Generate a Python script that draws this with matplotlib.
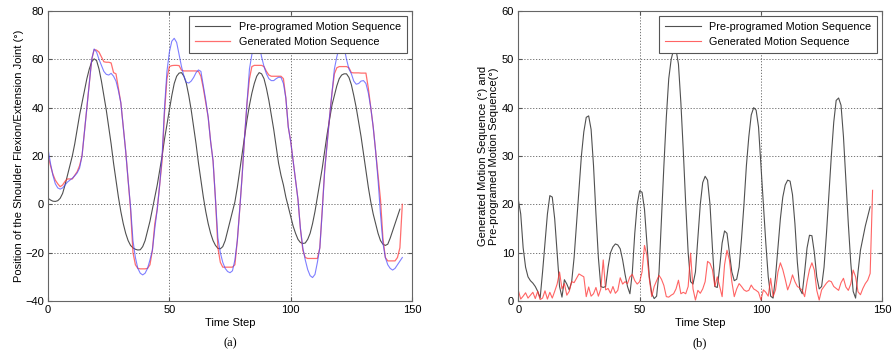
import numpy as np
import matplotlib
matplotlib.use("Agg")
import matplotlib.pyplot as plt

plt.rcParams['font.family'] = ['Liberation Sans', 'DejaVu Sans']

# ---- panel (a): joint position ----
pre_a = [2.5, 1.8, 1.3, 1.2, 1.5, 2.5, 4.5, 8, 12, 16, 20, 25, 31, 37, 42, 47, 52, 56, 59, 60.2,
         59.5, 56, 51, 45, 39, 32, 25, 17, 10, 3, -3, -8, -12, -15, -17, -18, -18.6, -18.9, -18.8, -17.5,
         -15, -11, -7, -2, 3, 8, 14, 20, 27, 33, 39, 45, 50, 53, 54.3, 54.5, 53, 50, 45, 39,
         32, 25, 17, 10, 3, -3, -8, -12, -15, -17, -18.2, -18.4, -17.5, -15, -11, -7, -3, 1, 7, 14,
         21, 28, 35, 41, 46, 50, 53, 54.5, 54, 52, 48, 43, 37, 31, 24, 17, 12, 8, 3, -1,
         -5, -9, -12, -14.5, -15.8, -16.2, -16, -14.5, -12, -8, -3, 3, 9, 15, 22, 29, 35, 41, 45, 49,
         52, 53.5, 54, 54, 52.5, 49.5, 45, 40, 34, 28, 21, 14, 7, 1, -4, -8, -12, -15, -16.5, -17,
         -16.5, -14, -11, -8, -5, -2]

gen_a = [20.5, 16, 12.5, 10, 8.5, 7.3, 8, 9.5, 10.5, 10.5, 10.5, 12, 13.5, 16, 20, 30, 40, 50, 60, 64,
         63.8, 63, 61, 59, 58.8, 58.8, 58.5, 54.5, 54, 48, 42, 32, 22, 10, -2, -20, -25, -26.5, -26.7, -26.7,
         -26.7, -26.5, -25, -19, -8, -2, 8, 18, 38, 52, 57, 57.4, 57.5, 57.5, 57.4, 55.5, 55.2, 55.2, 55.2, 55.2,
         55.2, 55.2, 55, 53, 48, 42, 36, 26, 18, 2, -18, -24, -26, -26, -26, -26, -26, -25, -15, -2,
         12, 28, 42, 52, 57, 57.5, 57.5, 57.5, 57.5, 57, 55, 53.5, 53, 53, 53, 53, 53, 52, 44, 32,
         26, 18, 10, 2, -10, -19, -22, -22.4, -22.4, -22.4, -22.4, -22.4, -18, -2, 14, 25, 36, 46, 54, 56.5,
         57, 57, 57, 57, 56.5, 54.5, 54.4, 54.4, 54.4, 54.3, 54.3, 54.3, 48, 40, 32, 22, 12, 2, -14, -22,
         -23.4, -23.4, -23.4, -23.4, -22, -18, 0]

act_a = [22.9, 17, 12, 8.5, 6.8, 6.3, 6.8, 8, 9.2, 10, 10.8, 11.8, 13, 15, 20, 30, 40, 50, 60, 64.3,
         63, 60, 57.5, 55, 53.8, 53.5, 54.2, 53, 51, 47, 42, 32, 22, 10, -1, -15, -22, -26.5, -28.5, -29.2,
         -28.5, -26.5, -23, -19, -10, -2, 8, 20, 40, 55, 63, 67.5, 68.7, 67, 62, 57, 53, 50.5, 50.2, 51,
         52.5, 54.5, 55.6, 55, 49, 43, 36, 26, 18, 2, -14, -20, -24, -26.5, -27.8, -28.3, -27.5, -23, -15, -2,
         12, 28, 42, 56, 62, 65.5, 67, 66, 61, 57, 54, 52, 51.2, 51.2, 52, 52.6, 52.5, 50, 44, 32,
         26, 18, 10, 2, -10, -18, -23, -27, -29.5, -30.3, -29, -24, -18, -3, 14, 25, 36, 46, 56, 61,
         65, 66.5, 65, 60, 56, 54, 51, 49.7, 50, 51, 51.2, 50, 46, 40, 32, 22, 10, -4, -16, -22,
         -25, -26.5, -27.2, -26.5, -25, -23.5, -22]

# ---- panel (b): differences ----
pre_b = [21, 18, 11, 7, 5, 4.2, 3.7, 3, 2, 0.6, 6, 12, 18, 21.8, 21.5, 17, 10, 3, 0.8, 4.4,
         3.5, 2.3, 4, 9, 16, 23, 30, 35, 38, 38.3, 35.5, 28, 18, 9, 3, 2.8, 3, 7, 10, 11.2,
         11.8, 11.6, 10.8, 8.5, 5.5, 3, 1.5, 6, 14, 20, 22.8, 22.5, 19, 12, 5, 1.5, 0.5, 1, 6, 17,
         28, 38, 46, 50, 52, 52, 49, 41, 31, 20, 10, 4, 3.5, 6, 13, 20, 24.5, 25.8, 25, 20,
         11, 3, 2.8, 7, 12, 14.5, 14, 10, 6, 4.2, 4.5, 7, 13, 20, 28, 34, 38.5, 40, 39.5, 36,
         28, 20, 12, 5, 1, 0.6, 5, 11, 17, 21.5, 24, 25, 24.8, 22, 16, 8, 2.5, 1.5, 6, 11,
         13.6, 13.5, 10, 5, 2.5, 3, 7, 14, 22, 30, 37, 41.5, 42, 40.5, 34, 25, 16, 8, 2, 0.6,
         6, 10.5, 13, 15.5, 17.5, 19.5]

gen_b = [2.2, 0.4, 1.0, 1.7, 0.6, 1.2, 1.8, 0.5, 2.0, 0.3, 0.6, 2.1, 0.4, 1.8, 0.6, 2.0, 3.5, 6.0, 2.5, 3.6,
         1.2, 2.0, 4.0, 3.8, 4.7, 5.6, 5.3, 5.0, 0.9, 2.9, 1.0, 1.5, 2.8, 1.0, 2.5, 8.5, 2.3, 2.6, 1.6, 3.0,
         1.6, 2.2, 4.8, 3.5, 4.0, 3.6, 5.0, 5.5, 4.2, 3.5, 4.0, 6.0, 11.5, 9.5, 4.5, 0.9, 3.0, 4.2, 5.3, 4.5,
         3.2, 0.9, 0.8, 1.2, 1.5, 2.5, 4.3, 1.5, 1.8, 1.5, 3.0, 9.9, 2.5, 0.2, 2.2, 1.6, 2.5, 4.0, 8.2, 7.8,
         6.5, 3.0, 5.0, 3.0, 0.9, 7.5, 10.5, 8.5, 4.0, 0.9, 2.5, 3.6, 3.0, 2.3, 2.0, 2.2, 3.3, 2.5, 2.2, 1.8,
         0.2, 2.3, 1.8, 1.0, 4.7, 0.9, 2.3, 6.0, 7.9, 6.5, 4.5, 2.3, 3.6, 5.4, 4.0, 3.0, 2.7, 2.2, 0.9, 4.0,
         6.5, 7.9, 6.4, 2.2, 0.2, 2.3, 3.0, 3.7, 4.2, 4.0, 3.0, 2.6, 2.2, 3.8, 4.7, 2.9, 2.2, 3.5, 6.4, 5.0,
         1.9, 1.3, 2.6, 3.6, 4.3, 5.7, 22.9]

legend_labels = ['Pre-programed Motion Sequence', 'Generated Motion Sequence']
x_ticks = [0, 50, 100, 150]

C_BLACK = '#505050'
C_RED = '#ff3030'
C_BLUE = '#4848ff'


def style_axes(ax, yticks):
    ax.set_xlim(0, 150)
    ax.set_xticks(x_ticks)
    ax.set_yticks(yticks)
    ax.set_ylim(yticks[0], yticks[-1])
    ax.grid(True, linestyle=(0, (1.5, 2)), color='#606060', linewidth=0.6)
    ax.tick_params(direction='in', labelsize=8, length=3, color='#555555', top=True, right=True, pad=3)
    for s in ax.spines.values():
        s.set_color('#666666')
        s.set_linewidth(0.8)
    ax.set_xlabel('Time Step', fontsize=8, labelpad=2)


def add_legend(ax):
    leg = ax.legend(loc='upper right', fontsize=7.8, fancybox=False, edgecolor='#555555',
                    handlelength=3.3, borderaxespad=0.5, borderpad=0.5, framealpha=1,
                    labelspacing=0.5)
    leg.get_frame().set_linewidth(0.8)


fig = plt.figure(figsize=(8.93, 3.56), dpi=100)

# panel (a)
ax1 = fig.add_axes([0.0538, 0.1545, 0.4076, 0.8146])
ax1.plot(np.arange(len(pre_a)), pre_a, color=C_BLACK, lw=0.8, label=legend_labels[0])
ax1.plot(np.arange(len(gen_a)), gen_a, color=C_RED, lw=0.9, alpha=0.7, label=legend_labels[1])
ax1.plot(np.arange(len(act_a)), act_a, color=C_BLUE, lw=0.8, alpha=0.7)
style_axes(ax1, [-40, -20, 0, 20, 40, 60, 80])
ax1.set_ylabel('Position of the Shoulder Flexion/Extension Joint (°)', fontsize=8, labelpad=1)
add_legend(ax1)

# panel (b)
ax2 = fig.add_axes([0.5804, 0.1545, 0.4076, 0.8146])
ax2.plot(np.arange(len(pre_b)), pre_b, color=C_BLACK, lw=0.8, label=legend_labels[0])
ax2.plot(np.arange(len(gen_b)), gen_b, color=C_RED, lw=0.8, alpha=0.75, label=legend_labels[1])
style_axes(ax2, [0, 10, 20, 30, 40, 50, 60])
ax2.set_ylabel('Generated Motion Sequence (°) and\nPre-programed Motion Sequence(°)',
               fontsize=8, labelpad=2, linespacing=1.1)
add_legend(ax2)

fig.text(230 / 893, 1 - 343 / 356, '(a)', ha='center', va='center', fontsize=9, family='Liberation Serif')
fig.text(700 / 893, 1 - 343 / 356, '(b)', ha='center', va='center', fontsize=9, family='Liberation Serif')

fig.savefig('out.png', dpi=100)
